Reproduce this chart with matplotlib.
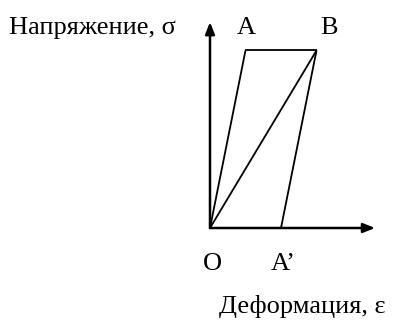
import matplotlib

matplotlib.use("Agg")

import matplotlib.pyplot as plt

# loading / unloading diagram points (strain, stress), arbitrary units
point_names = ["O", "A", "B", "A'"]
strain = [0.0, 1.0, 3.0, 2.0]
stress = [0.0, 5.0, 5.0, 0.0]
axis_max_strain = 4.65
axis_max_stress = 5.8

UNIT = 35.5  # pixels per unit
W, H = 395, 321
ORIGIN_PX = (210, 228)

fig = plt.figure(figsize=(W / 100, H / 100), dpi=100)
ax = fig.add_axes([0, 0, 1, 1])
ax.set_xlim(-ORIGIN_PX[0] / UNIT, (W - ORIGIN_PX[0]) / UNIT)
ax.set_ylim(-(H - ORIGIN_PX[1]) / UNIT, ORIGIN_PX[1] / UNIT)
ax.axis("off")

font = dict(family="Liberation Serif", color="black")

# axes with arrow heads
arrow = dict(arrowstyle="-|>,head_length=0.7,head_width=0.28", color="black", lw=1.8,
             shrinkA=0, shrinkB=0)
ax.annotate("", xy=(axis_max_strain, 0), xytext=(0, 0), arrowprops=arrow)
ax.annotate("", xy=(0, axis_max_stress), xytext=(0, 0), arrowprops=arrow)

pts = dict(zip(point_names, zip(strain, stress)))
for a, b in [("O", "A"), ("A", "B"), ("O", "B"), ("B", "A'")]:
    ax.plot([pts[a][0], pts[b][0]], [pts[a][1], pts[b][1]], color="black", lw=1.3,
            solid_capstyle="butt")

fs = 19
ax.text(pts["A"][0] + 0.02, 5.62, "A", ha="center", va="center", fontsize=fs, **font)
ax.text(pts["B"][0] + 0.35, 5.62, "B", ha="center", va="center", fontsize=fs, **font)
ax.text(0.06, -1.0, "O", ha="center", va="center", fontsize=fs, **font)
ax.text(pts["A'"][0] + 0.05, -1.0, "A\u2019", ha="center", va="center", fontsize=fs, **font)

ax.text(-5.65, 5.62, "Напряжение, σ", ha="left", va="center", fontsize=fs, **font)
ax.text(4.95, -2.2, "Деформация, ε", ha="right", va="center", fontsize=fs, **font)

fig.savefig("out.png", dpi=100, facecolor="white")
